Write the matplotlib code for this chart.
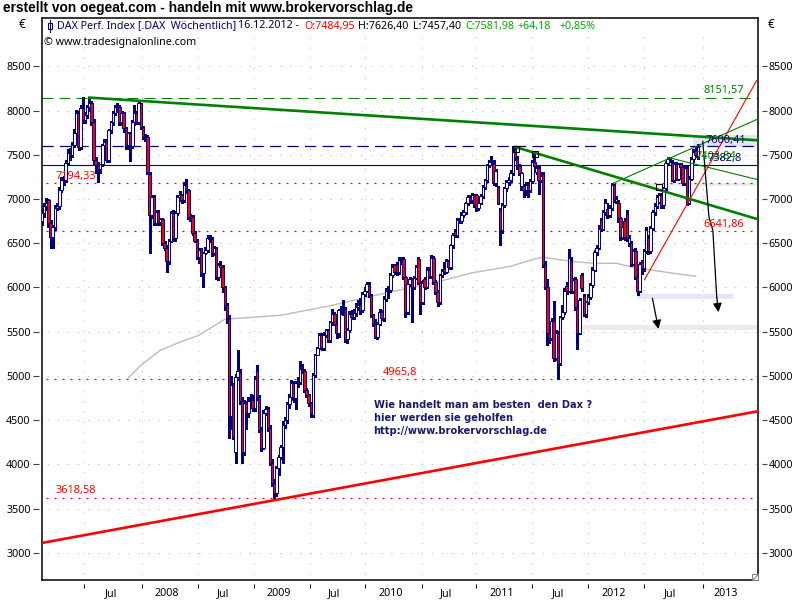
import matplotlib
matplotlib.use("Agg")
import matplotlib.pyplot as plt
from matplotlib.lines import Line2D
from matplotlib.patches import Rectangle

plt.rcParams['font.family'] = ['Noto Sans', 'DejaVu Sans']

# weekly candles, one row = 10 weeks
opens = [
    6750, 6840, 6920, 6985, 6725, 6570, 6680, 6900, 6920, 7100,
    7210, 7210, 7403, 7516, 7500, 7607, 7742, 7970, 7585, 8025,
    7890, 7950, 8035, 8090, 7865, 7437, 7380, 7335, 7390, 7607,
    7640, 7437, 7776, 7865, 7970, 8035, 8040, 7865, 7970, 7800,
    7607, 7745, 7600, 7865, 7975, 7865, 8080, 7810, 7700, 7700,
    7280, 6815, 7020, 6725, 6850, 6735, 6770, 6500, 6450, 6300,
    6530, 6840, 6555, 6840, 7020, 7040, 6990, 7155, 7100, 6780,
    6800, 6610, 6530, 6345, 6420, 6160, 6385, 6420, 6555, 6550,
    6385, 6440, 6115, 6250, 6230, 6000, 5800, 5650, 4550, 4893,
    4135, 4985, 5030, 4712, 4135, 4690, 4575, 4720, 4725, 4633,
    5060, 4758, 4385, 4180, 4577, 4630, 4407, 4020, 3785, 3670,
    3955, 4080, 4195, 4440, 4497, 4680, 4757, 4915, 4745, 4915,
    4930, 5075, 5060, 4837, 4780, 4690, 4560, 5005, 5233, 5310,
    5460, 5310, 5460, 5515, 5400, 5605, 5705, 5590, 5480, 5740,
    5745, 5760, 5413, 5515, 5705, 5660, 5710, 5780, 5800, 5740,
    5930, 5965, 6040, 5910, 5685, 5590, 5435, 5590, 5720, 5650,
    5870, 5965, 5970, 6135, 6250, 6270, 6170, 6305, 6320, 6115,
    5720, 6040, 6090, 6000, 6110, 6320, 6055, 5830, 6090, 6010,
    6195, 6130, 6330, 6060, 5945, 5832, 6140, 6220, 6170, 6295,
    6230, 6475, 6640, 6590, 6760, 6750, 6820, 6850, 6950, 7025,
    6985, 7040, 7040, 6900, 6960, 7030, 7130, 7210, 7380, 7415,
    7400, 7177, 7130, 6880, 6645, 6930, 7120, 7190, 7220, 7290,
    7570, 7460, 7370, 7150, 7150, 7100, 7160, 7100, 7200, 7415,
    7300, 7345, 7210, 7280, 6250, 6000, 5480, 5425, 5625, 5200,
    5480, 5140, 5660, 5720, 6020, 5965, 6300, 5965, 6100, 5775,
    5490, 6140, 5900, 5705, 5830, 5890, 6030, 6200, 6395, 6450,
    6760, 6665, 6850, 6890, 6820, 6900, 7155, 6980, 6960, 6780,
    6570, 6750, 6830, 6500, 6500, 6270, 6410, 6115, 5965, 6290,
    6220, 6410, 6560, 6410, 6670, 6850, 6920, 6970, 7040, 6930,
    7120, 7403, 7450, 7410, 7220, 7400, 7230, 7390, 7360, 7180,
    7350, 6960, 7230, 7450, 7540, 7484.95,
]
closes = [
    6840, 6920, 6950, 6725, 6570, 6680, 6900, 6920, 7100, 7210,
    7210, 7403, 7516, 7500, 7607, 7742, 7970, 7585, 8025, 7890,
    7950, 8035, 8090, 7865, 7437, 7380, 7335, 7390, 7607, 7640,
    7437, 7776, 7865, 7970, 8035, 8040, 7865, 7970, 7800, 7607,
    7745, 7600, 7865, 7975, 7865, 8080, 7810, 7700, 7700, 7300,
    6815, 7020, 6725, 6850, 6735, 6770, 6500, 6450, 6300, 6530,
    6840, 6555, 6840, 7020, 7040, 6990, 7155, 7100, 6800, 6800,
    6610, 6530, 6345, 6420, 6160, 6385, 6420, 6555, 6550, 6385,
    6440, 6115, 6250, 6230, 6000, 5800, 5650, 4550, 4893, 4306,
    4985, 5060, 4712, 4135, 4690, 4575, 4720, 4725, 4633, 4970,
    4758, 4385, 4180, 4577, 4630, 4407, 4020, 3785, 3670, 3955,
    4080, 4195, 4440, 4497, 4680, 4757, 4915, 4745, 4915, 4930,
    5075, 5060, 4837, 4780, 4690, 4577, 5005, 5233, 5310, 5460,
    5310, 5460, 5515, 5400, 5605, 5705, 5590, 5480, 5740, 5745,
    5745, 5413, 5515, 5705, 5660, 5710, 5780, 5800, 5740, 5930,
    5965, 6040, 5910, 5685, 5590, 5435, 5590, 5720, 5650, 5870,
    5965, 5970, 6135, 6230, 6170, 6170, 6305, 6310, 6115, 5720,
    6040, 6090, 6000, 6110, 6230, 6055, 5830, 6055, 6010, 6195,
    6130, 6330, 6060, 5945, 5832, 6140, 6190, 6170, 6295, 6230,
    6475, 6590, 6590, 6760, 6750, 6820, 6850, 6950, 7020, 6985,
    7040, 6930, 6900, 6960, 7030, 7130, 7210, 7380, 7415, 7425,
    7177, 7320, 6960, 6645, 6930, 7120, 7190, 7220, 7290, 7570,
    7460, 7370, 7290, 7290, 7100, 7160, 7100, 7200, 7415, 7370,
    7345, 7210, 7260, 6250, 6000, 5480, 5425, 5625, 5200, 5480,
    5135, 5660, 5720, 5965, 5965, 6330, 5965, 6080, 5775, 5490,
    5855, 5990, 5705, 5830, 5890, 6030, 6200, 6395, 6450, 6665,
    6665, 6850, 6960, 6820, 6900, 7155, 7000, 7000, 6780, 6570,
    6680, 6570, 6555, 6555, 6270, 6410, 6115, 5965, 6270, 6220,
    6410, 6645, 6410, 6670, 6850, 6920, 7020, 7040, 6930, 7120,
    7403, 7450, 7460, 7220, 7400, 7230, 7390, 7360, 7180, 7350,
    6960, 7230, 7450, 7530, 7500, 7581.98,
]
highs = [
    6900, 6960, 7010, 7000, 6760, 6700, 6930, 6960, 7130, 7250,
    7260, 7440, 7560, 7580, 7640, 7790, 8010, 8000, 8060, 8151,
    7980, 8060, 8140, 8110, 7900, 7480, 7420, 7400, 7620, 7680,
    7680, 7790, 7880, 7990, 8060, 8080, 8060, 7990, 7980, 7810,
    7760, 7760, 7890, 8060, 8000, 8110, 8090, 7830, 7740, 7720,
    7300, 7040, 7050, 6880, 6870, 6790, 6790, 6530, 6480, 6550,
    6860, 6870, 6860, 7050, 7090, 7060, 7190, 7225, 7110, 6830,
    6820, 6640, 6550, 6440, 6440, 6400, 6460, 6590, 6590, 6570,
    6470, 6460, 6280, 6300, 6250, 6020, 5820, 5690, 5000, 4920,
    5020, 5290, 5080, 4760, 4730, 4720, 4760, 4800, 4780, 5000,
    5120, 4780, 4420, 4610, 4660, 4650, 4440, 4060, 3830, 3980,
    4100, 4220, 4490, 4530, 4700, 4790, 4950, 4940, 4940, 4990,
    5170, 5130, 5080, 4860, 4800, 4700, 5030, 5250, 5330, 5480,
    5480, 5500, 5535, 5530, 5625, 5760, 5720, 5600, 5760, 5790,
    5860, 5780, 5540, 5730, 5740, 5760, 5820, 5860, 5880, 5950,
    6000, 6060, 6060, 5930, 5700, 5640, 5610, 5760, 5740, 5900,
    5990, 6020, 6160, 6260, 6270, 6290, 6340, 6340, 6340, 6130,
    6060, 6120, 6110, 6130, 6250, 6340, 6070, 6080, 6120, 6230,
    6230, 6370, 6350, 6080, 5970, 6150, 6210, 6290, 6320, 6310,
    6490, 6620, 6660, 6790, 6790, 6850, 6870, 6970, 7050, 7050,
    7070, 7060, 7060, 6990, 7060, 7160, 7230, 7400, 7440, 7490,
    7440, 7340, 7150, 6900, 6960, 7140, 7220, 7250, 7330, 7600,
    7600, 7490, 7400, 7310, 7170, 7190, 7190, 7230, 7440, 7530,
    7370, 7380, 7300, 7300, 6300, 6100, 5500, 5650, 5850, 5520,
    5510, 5680, 5800, 5990, 6060, 6430, 6340, 6110, 6120, 5800,
    5880, 6160, 5920, 5850, 5920, 6050, 6230, 6420, 6480, 6700,
    6790, 6880, 7000, 6950, 6930, 7175, 7170, 7030, 6990, 6800,
    6700, 6790, 6880, 6590, 6530, 6430, 6440, 6140, 6290, 6310,
    6430, 6680, 6590, 6690, 6880, 6950, 7050, 7070, 7070, 7140,
    7430, 7470, 7480, 7440, 7420, 7420, 7410, 7410, 7380, 7370,
    7380, 7260, 7470, 7560, 7600, 7626.40,
]
lows = [
    6700, 6800, 6880, 6680, 6440, 6440, 6650, 6880, 6890, 7080,
    7160, 7190, 7380, 7440, 7480, 7590, 7720, 7550, 7560, 7860,
    7860, 7920, 8000, 7840, 7400, 7290, 7190, 7290, 7370, 7570,
    7420, 7420, 7750, 7840, 7950, 7980, 7840, 7840, 7760, 7560,
    7570, 7430, 7580, 7840, 7850, 7850, 7790, 7680, 7660, 7280,
    6385, 6790, 6700, 6700, 6700, 6710, 6480, 6420, 6170, 6270,
    6510, 6530, 6530, 6820, 6980, 6960, 6970, 7070, 6770, 6750,
    6590, 6510, 6320, 6280, 6130, 6010, 6380, 6400, 6510, 6360,
    6370, 6100, 6080, 6190, 5950, 5750, 5600, 4300, 4400, 4290,
    4014, 4950, 4680, 4020, 4110, 4400, 4540, 4680, 4600, 4600,
    4730, 4360, 4150, 4170, 4560, 4380, 3990, 3760, 3618, 3640,
    3880, 4060, 4010, 4410, 4470, 4640, 4730, 4700, 4620, 4870,
    4910, 5030, 4820, 4760, 4660, 4540, 4540, 4990, 5280, 5300,
    5290, 5290, 5440, 5380, 5380, 5580, 5570, 5430, 5440, 5700,
    5690, 5380, 5370, 5500, 5640, 5640, 5680, 5740, 5700, 5720,
    5900, 5950, 5890, 5670, 5560, 5430, 5420, 5570, 5630, 5620,
    5850, 5880, 5950, 6120, 6150, 6140, 6150, 6260, 6100, 5660,
    5700, 6020, 5605, 5980, 6090, 6040, 5700, 5810, 5980, 5990,
    6110, 6110, 6040, 5920, 5790, 5810, 6120, 6150, 6160, 6210,
    6210, 6450, 6570, 6570, 6730, 6730, 6800, 6830, 6930, 6960,
    6960, 6910, 6860, 6870, 6940, 7010, 7110, 7190, 7360, 7400,
    7160, 7150, 6940, 6480, 6620, 6910, 7090, 7160, 7190, 7270,
    7440, 7340, 7270, 7100, 7020, 7050, 7020, 7080, 7180, 7340,
    7280, 7060, 7190, 6230, 5980, 5350, 5370, 5400, 5170, 5180,
    4965, 5120, 5640, 5700, 5930, 5950, 5940, 5940, 5740, 5300,
    5470, 5960, 5680, 5660, 5810, 5870, 6010, 6180, 6370, 6430,
    6640, 6650, 6820, 6790, 6800, 6880, 6970, 6950, 6740, 6540,
    6550, 6540, 6530, 6470, 6240, 6250, 6090, 5910, 5950, 6150,
    6190, 6390, 6380, 6390, 6650, 6820, 6900, 6950, 6900, 6900,
    7100, 7380, 7420, 7200, 7190, 7210, 7210, 7340, 7160, 7160,
    6930, 6940, 7210, 7420, 7480, 7457.40,
]
assert len(opens) == len(closes) == len(highs) == len(lows) == 306

# slow moving average (grey line)
ma_weeks = [40, 46, 55, 64, 73, 85, 111, 135, 151, 170, 185, 199, 218, 230, 233, 246, 256, 267, 275, 292, 304]
ma_values = [4973, 5120, 5289, 5380, 5459, 5640, 5685, 5798, 5888, 5990, 6069, 6160, 6239, 6329, 6341, 6295, 6273, 6273, 6228, 6165, 6126]

y_ticks = [3000, 3500, 4000, 4500, 5000, 5500, 6000, 6500, 7000, 7500, 8000, 8500]
x_ticks = [19.5, 46.5, 72.5, 98.5, 124.5, 150, 176.5, 202, 228, 254, 280, 307.5]
x_label_pos = [32, 58, 84, 110, 136, 162, 188, 214, 240, 266, 292, 318]
x_labels = ["Jul", "2008", "Jul", "2009", "Jul", "2010", "Jul", "2011", "Jul", "2012", "Jul", "2013"]

NAVY = "#000080"
RED = "#ff0000"
GREEN = "#008000"


def fxy(px, py):
    return px / 800, 1 - py / 600


fig = plt.figure(figsize=(8, 6), dpi=100)
ax = fig.add_axes([41.5 / 800, 1 - 580 / 600, 716.5 / 800, 562 / 600])
ax.set_xlim(-0.25, 333)
ax.set_ylim(2692, 9046)
for s in ax.spines.values():
    s.set_linewidth(1.1)
    s.set_color("black")

# grid
for v in y_ticks:
    ax.plot([2.5, 333], [v, v], color="#c4c4c4", lw=0.7, ls=(0, (1.4, 9)), zorder=0.2)
for w in x_ticks:
    ax.plot([w, w], [2760, 8900], color="#c4c4c4", lw=0.7, ls=(0, (1.4, 9)), zorder=0.2)

# pale zones
for w0, w1, v0, v1, col in [
    (302.8, 332.6, 7584, 7720, "#e4e4fa"),
    (265.6, 332.6, 7143, 7177, "#e6f0e6"),
    (276.7, 321.4, 5866, 5922, "#e4e4fa"),
    (248.8, 332.6, 5515, 5572, "#ebebeb"),
]:
    ax.add_patch(Rectangle((w0, v0), w1 - w0, v1 - v0, facecolor=col, edgecolor="none", zorder=0.5))

# horizontal levels
ax.axhline(8146, color=GREEN, lw=0.72, ls=(0, (11, 6)), zorder=1)
ax.axhline(7596, color=NAVY, lw=0.9, ls=(0, (9, 5)), zorder=1)
ax.axhline(7380, color=NAVY, lw=0.8, zorder=1)
for lvl in [7182, 6636, 4965, 3618]:
    ax.plot([2, 333], [lvl, lvl], color=RED, lw=0.9, ls=(0, (1.6, 4.8)), zorder=1)

ax.plot(ma_weeks, ma_values, color="#bcbcbc", lw=1.0, zorder=1.5)

# candles
weeks = list(range(len(opens)))
ax.vlines(weeks, lows, highs, color=NAVY, lw=0.8, antialiased=False, zorder=2.5)
body_bottom = [min(o, c) for o, c in zip(opens, closes)]
body_height = [abs(c - o) for o, c in zip(opens, closes)]
body_color = ["white" if c >= o else RED for o, c in zip(opens, closes)]
ax.bar(weeks, body_height, bottom=body_bottom, width=1.2, color=body_color,
       edgecolor=NAVY, linewidth=0.75, zorder=3)

# trend lines
ax.plot([22, 333], [8146, 7663], color=GREEN, lw=1.9, zorder=4)
ax.plot([220, 333], [7588, 6770], color=GREEN, lw=1.9, zorder=4)
ax.plot([-0.25, 333], [3110, 4600], color=RED, lw=1.9, zorder=4)
ax.plot([280.3, 332.4], [6090, 8340], color=RED, lw=0.8, zorder=4)
ax.plot([265.6, 332.6], [7177, 7900], color=GREEN, lw=0.8, zorder=4)
ax.plot([291, 332.6], [7470, 7220], color=GREEN, lw=0.8, zorder=4)

# pivot squares
ax.plot([220.3, 229.3, 287], [7570, 7510, 7130], ls="none", marker="s", ms=4.2, mfc="none",
        mec="black", mew=0.8, zorder=4.5)

# hand drawn arrows
ax.plot([307.3, 308.4, 310.2, 312, 313.8], [7652, 7324, 6793, 6646, 5892], color="black", lw=0.9, zorder=4.5)
ax.annotate("", xy=(314.6, 5720), xytext=(313.8, 5892), zorder=4.5,
            arrowprops=dict(arrowstyle="-|>", color="black", lw=0.9, mutation_scale=13, shrinkA=0, shrinkB=0))
ax.annotate("", xy=(286.7, 5530), xytext=(283.9, 5877), zorder=4.5,
            arrowprops=dict(arrowstyle="-|>", color="black", lw=0.9, mutation_scale=13, shrinkA=0, shrinkB=0))

# ticks sit a little off the frame
ax.set_xticks([])
ax.set_yticks([])
sec_x = ax.secondary_xaxis(-4 / 562)
sec_x.spines["bottom"].set_visible(False)
sec_x.set_xticks(x_ticks, labels=[""] * len(x_ticks))
sec_x.set_xticks(x_label_pos, labels=x_labels, minor=True)
sec_x.tick_params(axis="x", which="major", length=3, width=0.8)
sec_x.tick_params(axis="x", which="minor", length=0, labelsize=7.7, pad=3)

sec_l = ax.secondary_yaxis(-2.5 / 716.5)
sec_l.spines["left"].set_visible(False)
sec_l.set_yticks(y_ticks)
sec_l.tick_params(axis="y", length=4, width=0.8, labelsize=7.7, pad=2, color="#404040")

sec_r = ax.secondary_yaxis(1 + 3.5 / 716.5)
sec_r.spines["right"].set_visible(False)
sec_r.set_yticks(y_ticks)
sec_r.tick_params(axis="y", length=3.5, width=0.8, labelsize=7.7, pad=1.5, color="#404040")

# level labels, placed by pixel
labels = [
    (55, 176, "7194,33", RED), (55.5, 491, "3618,58", RED), (383, 372, "4965,8", RED),
    (703, 224, "6641,86", RED), (703, 91, "8151,57", GREEN), (706, 140, "7600,41", NAVY),
    (695, 157, "7403,84", GREEN), (707, 158, "7382,8", NAVY),
]
for px, py, txt, col in labels:
    fx, fy = fxy(px, py)
    fig.text(fx, fy, txt, color=col, fontsize=7.9, ha="left", va="center", zorder=6)

# header
fx, fy = fxy(3, 8)
fig.text(fx, fy, "erstellt von oegeat.com - handeln mit www.brokervorschlag.de", fontsize=9.95,
         fontweight="bold", family="Liberation Sans", color="black", va="center")
for px, txt, col in [
    (57, "DAX Perf. Index [.DAX  Wöchentlich]", NAVY),
    (238, "16.12.2012 -", "#000050"),
    (304, "O:7484,95", RED),
    (358, "H:7626,40", "black"),
    (412.5, "L:7457,40", "black"),
    (465, "C:7581,98", "#00b000"),
    (518, "+64,18", "#00b000"),
    (559, "+0,85%", "#00b000"),
]:
    fx, fy = fxy(px, 26)
    fig.text(fx, fy, txt, color=col, fontsize=7.7, va="center", ha="left")
fx, fy = fxy(44, 42)
fig.text(fx, fy, "© www.tradesignalonline.com", color="black", fontsize=7.7, va="center")
for px in [22, 771]:
    fx, fy = fxy(px, 25)
    fig.text(fx, fy, "€", color="black", fontsize=8.5, ha="center", va="center")

# small candle icon in the header
x0, y0 = fxy(47.5, 23)
x1, y1 = fxy(47.5 + 4, 29)
fig.add_artist(Rectangle((x0, y1), x1 - x0, y0 - y1, transform=fig.transFigure, fill=False, ec=NAVY, lw=0.8))
xm, ya = fxy(49.5, 20)
_, yb = fxy(49.5, 32)
fig.add_artist(Line2D([xm, xm], [ya, yb], transform=fig.transFigure, color=NAVY, lw=0.8))

# comment in the chart
for py, txt in [(405, "Wie handelt man am besten  den Dax ?"), (418, "hier werden sie geholfen"),
                (431, "http://www.brokervorschlag.de")]:
    fx, fy = fxy(373.5, py)
    fig.text(fx, fy, txt, color="#191970", fontsize=7.1, fontweight="bold", family="DejaVu Sans",
             va="center", zorder=6)

# resize grip bottom right
x0, y0 = fxy(751.5, 580)
x1, y1 = fxy(758, 573.5)
fig.add_artist(Rectangle((x0, y0), x1 - x0, y1 - y0, transform=fig.transFigure, fc="white", ec="#808080", lw=0.8))
fig.add_artist(Line2D([x0 + 0.002, x1], [y0, y1 - 0.002], transform=fig.transFigure, color="#808080", lw=0.8))

fig.savefig("out.png", dpi=100)
